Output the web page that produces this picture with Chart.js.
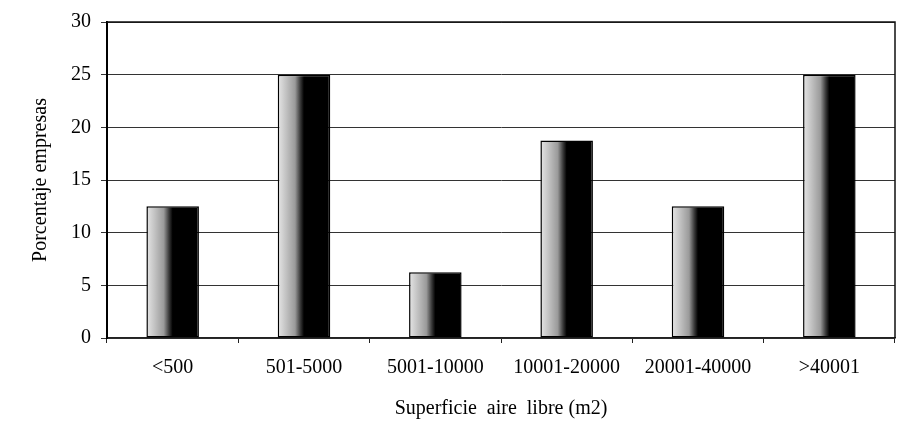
<!DOCTYPE html>
<html>
<head>
<meta charset="utf-8">
<script src="https://cdn.jsdelivr.net/npm/chart.js@4"></script>
<style>
  html, body { margin: 0; padding: 0; background: #fff; }
  #wrap { width: 907px; height: 426px; }
</style>
</head>
<body>
<div id="wrap"><canvas id="myChart" width="907" height="426"></canvas></div>
<script>
// ==========================================
// Data
// ==========================================
const labels = ["<500", "501-5000", "5001-10000", "10001-20000", "20001-40000", ">40001"];
const values = [12.5, 25, 6.25, 18.75, 12.5, 25];
const yTicks = [0, 5, 10, 15, 20, 25, 30];

const serif = "'Liberation Serif', 'Times New Roman', serif";
const barPct = 0.4;

// gray to black shading across each bar
function barFill(c) {
   const chart = c.chart;
   const area = chart.chartArea;
   if (!area || !chart.scales.x) return "#000";
   const x = chart.scales.x.getPixelForValue(c.dataIndex);
   const w = (area.right - area.left) / labels.length * barPct;
   const g = chart.ctx.createLinearGradient(x - w / 2, 0, x + w / 2, 0);
   g.addColorStop(0, "#e6e6e6");
   g.addColorStop(0.15, "#c4c4c4");
   g.addColorStop(0.33, "#9a9a9a");
   g.addColorStop(0.43, "#3a3a3a");
   g.addColorStop(0.5, "#000");
   g.addColorStop(1, "#000");
   return g;
}

// right and top edge of the plot box
const frame = {
   id: "frame",
   afterDraw(chart) {
      const a = chart.chartArea;
      const ctx = chart.ctx;
      ctx.save();
      ctx.strokeStyle = "#111";
      ctx.lineWidth = 1.5;
      ctx.beginPath();
      ctx.moveTo(a.left, a.top);
      ctx.lineTo(a.right, a.top);
      ctx.lineTo(a.right, a.bottom);
      ctx.stroke();
      ctx.restore();
   }
};

const ctx = document.getElementById("myChart");

let chart = new Chart(ctx, {
   type: "bar",
   data: {
      labels: labels,
      datasets: [{
         label: "Porcentaje empresas",
         data: values,
         backgroundColor: barFill,
         borderColor: "#000",
         borderWidth: 1.5,
         borderSkipped: false,
         categoryPercentage: 1,
         barPercentage: barPct
      }]
   },
   options: {
      responsive: false,
      animation: false,
      layout: { padding: { top: 18, right: 12, left: 0, bottom: 0 } },
      plugins: {
         legend: { display: false },
         tooltip: { enabled: false }
      },
      scales: {
         x: {
            grid: {
               offset: true,
               drawOnChartArea: false,
               drawTicks: true,
               tickLength: 5,
               color: "#222"
            },
            border: { display: true, color: "#222", width: 1.5 },
            ticks: {
               color: "#000",
               font: { family: serif, size: 20 },
               padding: 13,
               maxRotation: 0
            },
            title: {
               display: true,
               text: "Superficie  aire  libre (m2)",
               color: "#000",
               font: { family: serif, size: 20 },
               padding: { top: 10, bottom: 5 }
            },
            afterFit(scale) { scale.height = 88; }
         },
         y: {
            min: 0,
            max: 30,
            afterBuildTicks(scale) {
               scale.ticks = yTicks.map((v) => ({ value: v }));
            },
            grid: {
               color: "#333",
               lineWidth: 1,
               tickLength: 6,
               drawTicks: true
            },
            border: { display: true, color: "#000", width: 2 },
            ticks: {
               color: "#000",
               font: { family: serif, size: 20 },
               padding: 10
            },
            title: {
               display: true,
               text: "Porcentaje empresas",
               color: "#000",
               font: { family: serif, size: 20 },
               padding: { top: 29, bottom: 10 }
            },
            afterFit(scale) { scale.width = 107; }
         }
      }
   },
   plugins: [frame]
});
</script>
</body>
</html>
